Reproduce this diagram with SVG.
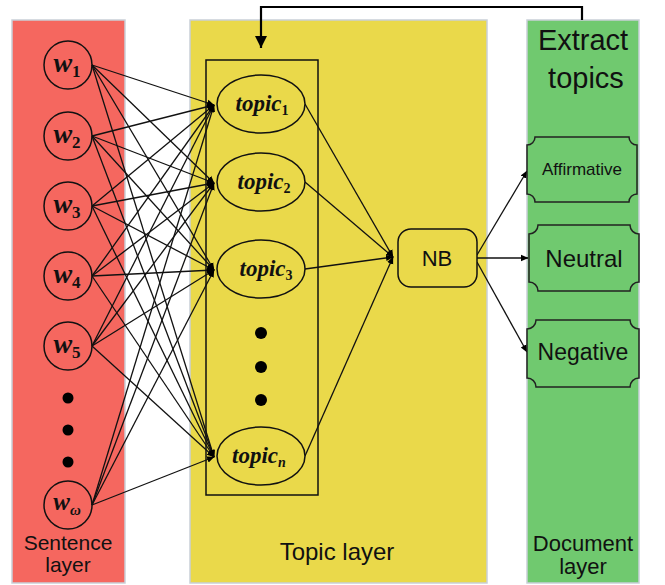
<svg xmlns="http://www.w3.org/2000/svg" width="665" height="585" viewBox="0 0 665 585">
  <defs>
    <marker id="ah" markerWidth="9" markerHeight="8" refX="7" refY="4" orient="auto" markerUnits="userSpaceOnUse">
      <path d="M0,0.8 L7.5,4 L0,7.2 Z" fill="#000"/>
    </marker>
    <marker id="ahBig" markerWidth="14" markerHeight="14" refX="6" refY="12" orient="0" markerUnits="userSpaceOnUse">
      <path d="M0,0 L12,0 L6,12 Z" fill="#000"/>
    </marker>
  </defs>
  <style>
    .panel { stroke: #c9cfd8; stroke-width: 1.5; }
    .node { fill: none; stroke: #111; stroke-width: 1.5; }
    .topicNode { fill: #EAD94A; stroke: #111; stroke-width: 1.5; }
    .out { fill: #70C96F; stroke: #222; stroke-width: 1.5; }
    .lbl { font-family: "Liberation Sans", Arial, sans-serif; fill: #111; }
    .math { font-family: "Liberation Serif", "Times New Roman", serif; font-weight: bold; font-style: italic; fill: #111; }
    .up { font-style: normal; }
    .conn line { stroke: #111; stroke-width: 1.3; marker-end: url(#ah); }
    .dot { fill: #000; }
  </style>

  <!-- panels -->
  <g id="sentence-layer">
    <rect class="panel" x="12" y="20" width="113" height="563" fill="#F5675F"/>
    <text class="lbl" x="68" y="550" font-size="21" text-anchor="middle">Sentence</text>
    <text class="lbl" x="68" y="572" font-size="21" text-anchor="middle">layer</text>
  </g>
  <g id="topic-layer">
    <rect class="panel" x="190" y="20" width="297" height="563" fill="#EAD94A"/>
    <text class="lbl" x="337" y="560" font-size="24" text-anchor="middle">Topic layer</text>
  </g>
  <g id="document-layer">
    <rect class="panel" x="527" y="20" width="112" height="563" fill="#70C96F"/>
    <text class="lbl" x="583" y="50" font-size="29" text-anchor="middle">Extract</text>
    <text class="lbl" x="586" y="88" font-size="29" text-anchor="middle">topics</text>
    <text class="lbl" x="583" y="551" font-size="22" text-anchor="middle">Document</text>
    <text class="lbl" x="583" y="574" font-size="22" text-anchor="middle">layer</text>
  </g>

  <!-- topic container box -->
  <g id="topic-box">
    <rect x="206" y="60" width="112" height="435" fill="none" stroke="#111" stroke-width="1.5"/>
  </g>

  <!-- connectors -->
  <g id="connectors" class="conn">
    <line x1="92" y1="65" x2="214" y2="105"/>
    <line x1="92" y1="65" x2="214" y2="183"/>
    <line x1="92" y1="65" x2="214" y2="270"/>
    <line x1="92" y1="65" x2="214" y2="457"/>
    <line x1="92" y1="136" x2="214" y2="105"/>
    <line x1="92" y1="136" x2="214" y2="183"/>
    <line x1="92" y1="136" x2="214" y2="270"/>
    <line x1="92" y1="136" x2="214" y2="457"/>
    <line x1="92" y1="206" x2="214" y2="105"/>
    <line x1="92" y1="206" x2="214" y2="183"/>
    <line x1="92" y1="206" x2="214" y2="270"/>
    <line x1="92" y1="206" x2="214" y2="457"/>
    <line x1="92" y1="276" x2="214" y2="105"/>
    <line x1="92" y1="276" x2="214" y2="183"/>
    <line x1="92" y1="276" x2="214" y2="270"/>
    <line x1="92" y1="276" x2="214" y2="457"/>
    <line x1="92" y1="346" x2="214" y2="105"/>
    <line x1="92" y1="346" x2="214" y2="183"/>
    <line x1="92" y1="346" x2="214" y2="270"/>
    <line x1="92" y1="346" x2="214" y2="457"/>
    <line x1="92" y1="505" x2="214" y2="105"/>
    <line x1="92" y1="505" x2="214" y2="183"/>
    <line x1="92" y1="505" x2="214" y2="270"/>
    <line x1="92" y1="505" x2="214" y2="457"/>
    <line x1="305" y1="104" x2="393" y2="257"/>
    <line x1="305" y1="182" x2="393" y2="257"/>
    <line x1="305" y1="269" x2="393" y2="257"/>
    <line x1="305" y1="456" x2="393" y2="257"/>
    <line x1="477" y1="255" x2="527" y2="171"/>
    <line x1="477" y1="258" x2="528" y2="258"/>
    <line x1="477" y1="262" x2="527" y2="352"/>
    <path d="M582,20 V7 H261 V48" fill="none" stroke="#000" stroke-width="2.2" marker-end="url(#ahBig)"/>
  </g>

  <!-- word nodes -->
  <g id="w1">
    <circle class="node" cx="68" cy="65" r="24"/>
    <text class="math" x="67" y="72" font-size="28" text-anchor="middle">w<tspan class="up" font-size="17" dy="5">1</tspan></text>
  </g>
  <g id="w2">
    <circle class="node" cx="68" cy="136" r="24"/>
    <text class="math" x="67" y="143" font-size="28" text-anchor="middle">w<tspan class="up" font-size="17" dy="5">2</tspan></text>
  </g>
  <g id="w3">
    <circle class="node" cx="68" cy="206" r="24"/>
    <text class="math" x="67" y="213" font-size="28" text-anchor="middle">w<tspan class="up" font-size="17" dy="5">3</tspan></text>
  </g>
  <g id="w4">
    <circle class="node" cx="68" cy="276" r="24"/>
    <text class="math" x="67" y="283" font-size="28" text-anchor="middle">w<tspan class="up" font-size="17" dy="5">4</tspan></text>
  </g>
  <g id="w5">
    <circle class="node" cx="68" cy="346" r="24"/>
    <text class="math" x="67" y="353" font-size="28" text-anchor="middle">w<tspan class="up" font-size="17" dy="5">5</tspan></text>
  </g>
  <g id="w-dots">
    <circle class="dot" cx="68" cy="398" r="5.5"/>
    <circle class="dot" cx="68" cy="430" r="5.5"/>
    <circle class="dot" cx="68" cy="462" r="5.5"/>
  </g>
  <g id="w-omega">
    <circle class="node" cx="68" cy="505" r="24"/>
    <text class="math" x="67" y="510" font-size="25" text-anchor="middle">w<tspan font-size="15" dy="5">ω</tspan></text>
  </g>

  <!-- topic nodes -->
  <g id="topic1">
    <ellipse class="topicNode" cx="261" cy="104" rx="44" ry="29"/>
    <text class="math" x="262" y="111" font-size="23" text-anchor="middle">topic<tspan class="up" font-size="14" dy="4">1</tspan></text>
  </g>
  <g id="topic2">
    <ellipse class="topicNode" cx="261" cy="182" rx="44" ry="29"/>
    <text class="math" x="264" y="189" font-size="23" text-anchor="middle">topic<tspan class="up" font-size="14" dy="4">2</tspan></text>
  </g>
  <g id="topic3">
    <ellipse class="topicNode" cx="261" cy="269" rx="44" ry="29"/>
    <text class="math" x="266" y="276" font-size="23" text-anchor="middle">topic<tspan class="up" font-size="14" dy="4">3</tspan></text>
  </g>
  <g id="topic-dots">
    <circle class="dot" cx="261" cy="333" r="6"/>
    <circle class="dot" cx="261" cy="367" r="6"/>
    <circle class="dot" cx="261" cy="400" r="6"/>
  </g>
  <g id="topicn">
    <ellipse class="topicNode" cx="261" cy="456" rx="44" ry="29"/>
    <text class="math" x="259" y="463" font-size="23" text-anchor="middle">topic<tspan font-size="14" dy="4">n</tspan></text>
  </g>

  <!-- NB -->
  <g id="nb">
    <rect x="398" y="229" width="79" height="58" rx="13" fill="#EAD94A" stroke="#111" stroke-width="1.5"/>
    <text class="lbl" x="437" y="266" font-size="22" text-anchor="middle">NB</text>
  </g>

  <!-- outputs -->
  <g id="affirmative">
    <path class="out" d="M535,137 H629 A8,8 0 0 0 637,145 V194 A8,8 0 0 0 629,202 H535 A8,8 0 0 0 527,194 V145 A8,8 0 0 0 535,137 Z"/>
    <text class="lbl" x="582" y="175" font-size="17" text-anchor="middle">Affirmative</text>
  </g>
  <g id="neutral">
    <path class="out" d="M538,225 H630 A9,9 0 0 0 639,234 V282 A9,9 0 0 0 630,291 H538 A9,9 0 0 0 529,282 V234 A9,9 0 0 0 538,225 Z"/>
    <text class="lbl" x="584" y="267" font-size="24" text-anchor="middle">Neutral</text>
  </g>
  <g id="negative">
    <path class="out" d="M536,320 H630 A9,9 0 0 0 639,329 V378 A9,9 0 0 0 630,387 H536 A9,9 0 0 0 527,378 V329 A9,9 0 0 0 536,320 Z"/>
    <text class="lbl" x="583" y="360" font-size="23" text-anchor="middle">Negative</text>
  </g>
</svg>
